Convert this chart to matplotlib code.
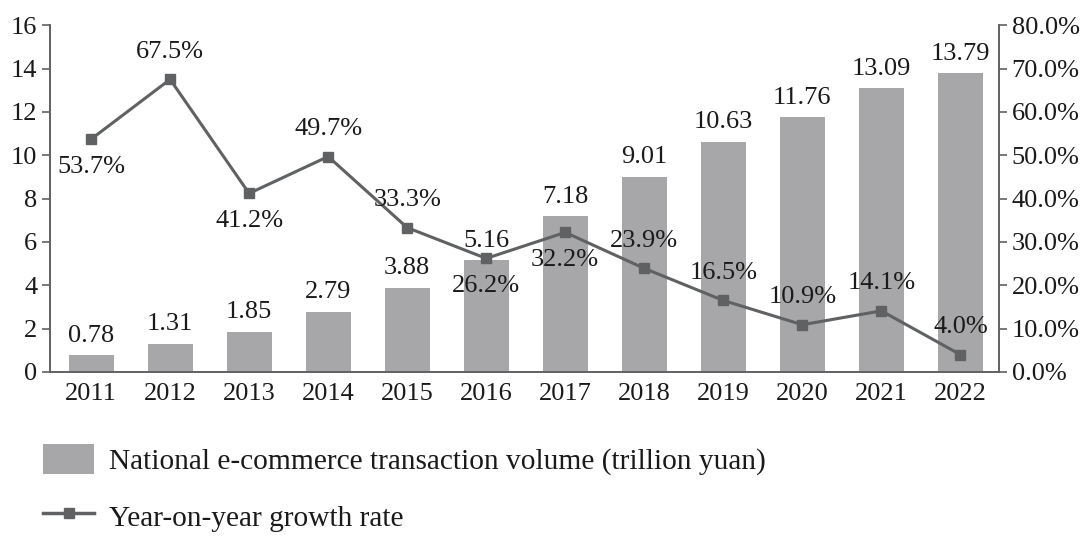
import matplotlib
matplotlib.use("Agg")
import matplotlib.pyplot as plt
from matplotlib.lines import Line2D
from matplotlib.patches import Patch

years = ["2011", "2012", "2013", "2014", "2015", "2016",
         "2017", "2018", "2019", "2020", "2021", "2022"]
volume = [0.78, 1.31, 1.85, 2.79, 3.88, 5.16, 7.18, 9.01, 10.63, 11.76, 13.09, 13.79]
growth = [53.7, 67.5, 41.2, 49.7, 33.3, 26.2, 32.2, 23.9, 16.5, 10.9, 14.1, 4.0]
# label above (+1) or below (-1) each growth point
growth_side = [-1, 1, -1, 1, 1, -1, -1, 1, 1, 1, 1, 1]

BAR = "#a7a7aa"
LINE = "#5f6163"
TXT = "#1a1a1a"
FS = 19

plt.rcParams["font.family"] = ["Liberation Serif", "DejaVu Serif"]
plt.rcParams["font.size"] = FS

fig = plt.figure(figsize=(10.86, 5.36), dpi=100)
ax = fig.add_axes([0.046, 0.306, 0.874, 0.647])
ax2 = ax.twinx()

x = list(range(len(years)))
ax.bar(x, volume, width=0.57, color=BAR, zorder=1)
for xi, v in zip(x, volume):
    ax.annotate(f"{v:.2f}", (xi, v), xytext=(0, 14), textcoords="offset points",
                ha="center", va="center", fontsize=FS, color=TXT)

ax2.plot(x, growth, color=LINE, linewidth=2.2, marker="s", markersize=7.5,
         zorder=3)
for xi, g, side in zip(x, growth, growth_side):
    ax2.annotate(f"{g:.1f}%", (xi, g), xytext=(0, 20 * side),
                 textcoords="offset points", ha="center", va="center",
                 fontsize=FS, color=TXT)

ax.set_xlim(-0.52, 11.49)
ax.set_ylim(0, 16)
ax.set_yticks(range(0, 17, 2))
ax2.set_ylim(0, 80)
ax2.set_yticks(range(0, 81, 10))
ax2.set_yticklabels([f"{t:.1f}%" for t in range(0, 81, 10)])
ax.set_xticks(x)
ax.set_xticklabels(years)

for a in (ax, ax2):
    a.spines["top"].set_visible(False)
    for s in ("left", "right", "bottom"):
        a.spines[s].set_color(LINE)
        a.spines[s].set_linewidth(1.2)
    a.tick_params(colors=LINE, labelcolor=TXT, labelsize=FS, width=1.2,
                  length=6, pad=3)
ax.tick_params(axis="x", length=0, pad=8)
ax2.set_zorder(ax.get_zorder() + 1)
ax2.patch.set_visible(False)

handles = [Patch(facecolor=BAR, edgecolor="none"),
           Line2D([], [], color=LINE, linewidth=2.5, marker="s", markersize=7)]
fig.legend(handles, ["National e-commerce transaction volume (trillion yuan)",
                     "Year-on-year growth rate"],
           loc="upper left", bbox_to_anchor=(0.015, 0.222), frameon=False,
           fontsize=21.2, handlelength=1.75, handleheight=1.2, handletextpad=0.5,
           labelspacing=0.88, labelcolor=TXT)

fig.savefig("out.png", dpi=100)
